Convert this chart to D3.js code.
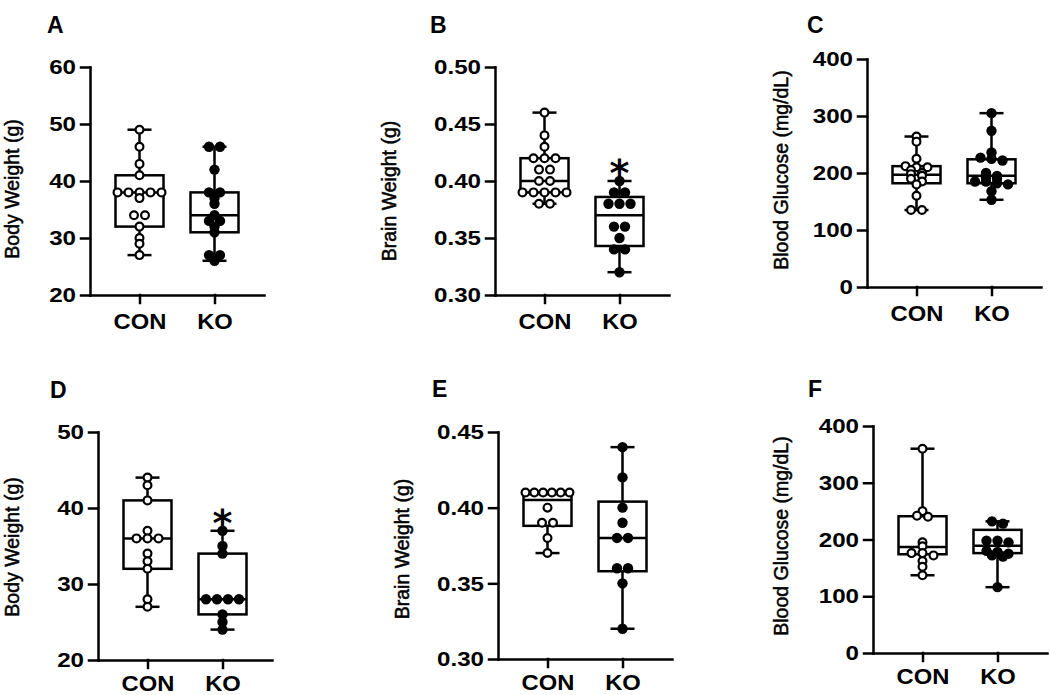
<!DOCTYPE html>
<html><head><meta charset="utf-8">
<script src="https://cdn.jsdelivr.net/npm/d3@7"></script>
<style>body{margin:0;background:#fff}</style>
</head><body>
<svg id="c" width="1050" height="695"></svg>
<script>
// ---------- data ----------
const groups = ["CON", "KO"];
const panelLetters = ["A", "B", "C", "D", "E", "F"];
const yTitles = ["Body Weight (g)", "Brain Weight (g)", "Blood Glucose (mg/dL)",
                 "Body Weight (g)", "Brain Weight (g)", "Blood Glucose (mg/dL)"];
const yDomains = [[20, 60], [0.30, 0.50], [0, 400], [20, 50], [0.30, 0.45], [0, 400]];
const yTicksA = [20, 30, 40, 50, 60];
const yTicksB = [0.30, 0.35, 0.40, 0.45, 0.50];
const yTicksC = [0, 100, 200, 300, 400];
const yTicksD = [20, 30, 40, 50];
const yTicksE = [0.30, 0.35, 0.40, 0.45];
const yTicksF = [0, 100, 200, 300, 400];
const tickFormats = ["d", ".2f", "d", "d", ".2f", "d"];
const significantKO = [false, true, false, true, false, false];

// individual values
const conA = [49, 46, 43, 41, 38, 38, 38, 38, 38, 37, 34, 34, 32, 30, 29, 27];
const koA  = [46, 46, 42, 38, 38, 37, 36, 34, 33, 33, 32, 31, 27, 27, 26];
const conB = [0.46, 0.44, 0.43, 0.42, 0.42, 0.42, 0.41, 0.41, 0.40, 0.40, 0.39, 0.39, 0.39, 0.39, 0.39, 0.38, 0.38];
const koB  = [0.40, 0.39, 0.39, 0.38, 0.38, 0.38, 0.36, 0.36, 0.35, 0.34, 0.34, 0.32];
const conC = [264, 255, 225, 212, 210, 210, 205, 200, 198, 195, 190, 185, 180, 160, 135, 135];
const koC  = [305, 274, 236, 227, 225, 222, 200, 195, 192, 190, 185, 185, 182, 180, 168, 153];
const conD = [44, 43, 41, 37, 36, 36, 36, 34, 33, 32, 28, 27];
const koD  = [37, 35, 34, 28, 28, 28, 28, 26, 25, 24];
const conE = [0.41, 0.41, 0.41, 0.41, 0.41, 0.41, 0.40, 0.39, 0.39, 0.38, 0.37];
const koE  = [0.44, 0.42, 0.40, 0.39, 0.38, 0.38, 0.36, 0.36, 0.35, 0.32];
const conF = [360, 250, 242, 240, 195, 188, 176, 176, 172, 162, 152, 137];
const koF  = [232, 228, 198, 198, 195, 180, 178, 175, 172, 170, 116];

// box statistics [min, q1, median, q3, max] for CON and KO
const boxA = [[27, 32, 38, 41, 49], [26, 31, 34, 38, 46]];
const boxB = [[0.38, 0.39, 0.40, 0.42, 0.46], [0.32, 0.343, 0.37, 0.386, 0.40]];
const boxC = [[135, 182, 197, 212, 264], [153, 182, 195, 224, 305]];
const boxD = [[27, 32, 36, 41, 44], [24, 26, 28, 34, 37]];
const boxE = [[0.37, 0.388, 0.405, 0.409, 0.41], [0.32, 0.358, 0.38, 0.404, 0.44]];
const boxF = [[137, 174, 187, 241, 360], [116, 176, 189, 217, 232]];

const yTicks = [yTicksA, yTicksB, yTicksC, yTicksD, yTicksE, yTicksF];
const values = [[conA, koA], [conB, koB], [conC, koC], [conD, koD], [conE, koE], [conF, koF]];
const boxes = [boxA, boxB, boxC, boxD, boxE, boxF];

// ---------- layout ----------
const layout = [
  {ax: 90,  top: 67,  bot: 295, lx: 47,  ly: 33,  tx: 12,  ty: 189, xpad: 10},
  {ax: 495, top: 67,  bot: 295, lx: 430, ly: 33,  tx: 389, ty: 191, xpad: 10},
  {ax: 867, top: 59,  bot: 287, lx: 807, ly: 33,  tx: 781, ty: 170, xpad: 10},
  {ax: 98,  top: 432, bot: 660, lx: 50,  ly: 398, tx: 12,  ty: 547, xpad: 7},
  {ax: 498, top: 432, bot: 659, lx: 432, ly: 397, tx: 402, ty: 549, xpad: 7},
  {ax: 873, top: 426, bot: 653, lx: 808, ly: 397, tx: 781, ty: 536, xpad: 7}
];
const AXIS_LEN = 174, BOX_W = 48, CAP_W = 24, LW = 2.5;
const R_FILL = 5.2, R_OPEN = 3.9, SPACING = 11, MAX_SPREAD = 44;
const FONT = "'Liberation Sans', Arial, Helvetica, sans-serif";

const svg = d3.select("#c");

function stretch(sel, f) {
  sel.each(function () {
    const w = this.getComputedTextLength();
    d3.select(this).attr("textLength", w * f).attr("lengthAdjust", "spacingAndGlyphs");
  });
}

function swarm(vals, y) {
  const pts = vals.map(v => ({v, y: y(v)})).sort((a, b) => a.y - b.y);
  const rows = [];
  pts.forEach(p => {
    const last = rows[rows.length - 1];
    if (last && Math.abs(last[0].y - p.y) < 3) last.push(p); else rows.push([p]);
  });
  rows.forEach(row => {
    const n = row.length;
    const sp = n > 1 ? Math.min(SPACING, MAX_SPREAD / (n - 1)) : 0;
    row.forEach((p, i) => { p.dx = (i - (n - 1) / 2) * sp; });
  });
  return pts;
}

layout.forEach((L, k) => {
  const g = svg.append("g");
  const y = d3.scaleLinear().domain(yDomains[k]).range([L.bot, L.top]);
  const x = d3.scalePoint().domain(groups).range([L.ax, L.ax + AXIS_LEN]).padding(0.66);

  const ya = g.append("g").attr("transform", `translate(${L.ax},0)`)
    .call(d3.axisLeft(y).tickValues(yTicks[k]).tickFormat(d3.format(tickFormats[k]))
      .tickSize(9).tickPadding(5).tickSizeOuter(0));
  const xa = g.append("g").attr("transform", `translate(0,${L.bot})`)
    .call(d3.axisBottom(x).tickSize(8).tickPadding(L.xpad).tickSizeOuter(0));
  [ya, xa].forEach(a => {
    a.selectAll("path, line").attr("stroke", "#000").attr("stroke-width", LW).attr("stroke-linecap", "square");
    a.selectAll("text").attr("fill", "#000").style("font-family", FONT).style("font-weight", "bold");
  });
  ya.selectAll("text").style("font-size", "21px");
  xa.selectAll("text").style("font-size", "22px");
  stretch(ya.selectAll("text"), 1.15);
  stretch(xa.selectAll("text"), 1.08);

  g.append("text")
    .attr("transform", `translate(${L.tx},${L.ty}) rotate(-90)`)
    .attr("text-anchor", "middle").attr("dominant-baseline", "central")
    .style("font-family", FONT).style("font-size", "19.5px")
    .attr("fill", "#000").attr("stroke", "#000").attr("stroke-width", 0.5)
    .text(yTitles[k]);

  g.append("text").attr("x", L.lx).attr("y", L.ly)
    .style("font-family", FONT).style("font-weight", "bold")
    .style("font-size", "23px").text(panelLetters[k]);

  groups.forEach((grp, i) => {
    const [mn, q1, md, q3, mx] = boxes[k][i];
    const cx = x(grp);
    const bg = g.append("g").attr("stroke", "#000").attr("stroke-width", LW).attr("fill", "none");
    bg.append("line").attr("x1", cx).attr("x2", cx).attr("y1", y(mx)).attr("y2", y(q3));
    bg.append("line").attr("x1", cx).attr("x2", cx).attr("y1", y(q1)).attr("y2", y(mn));
    bg.append("line").attr("x1", cx - CAP_W / 2).attr("x2", cx + CAP_W / 2).attr("y1", y(mx)).attr("y2", y(mx));
    bg.append("line").attr("x1", cx - CAP_W / 2).attr("x2", cx + CAP_W / 2).attr("y1", y(mn)).attr("y2", y(mn));
    bg.append("rect").attr("x", cx - BOX_W / 2).attr("width", BOX_W)
      .attr("y", y(q3)).attr("height", y(q1) - y(q3)).attr("fill", "#fff");
    bg.append("line").attr("x1", cx - BOX_W / 2).attr("x2", cx + BOX_W / 2).attr("y1", y(md)).attr("y2", y(md));

    const pts = swarm(values[k][i], y);
    const open = i === 0;
    g.append("g").selectAll("circle").data(pts).join("circle")
      .attr("cx", d => cx + d.dx).attr("cy", d => d.y)
      .attr("r", open ? R_OPEN : R_FILL)
      .attr("fill", open ? "#fff" : "#000")
      .attr("stroke", "#000").attr("stroke-width", open ? 2.2 : 0);

    if (i === 1 && significantKO[k]) {
      g.append("text").attr("x", cx).attr("y", y(mx) - 17 + 22)
        .attr("text-anchor", "middle")
        .style("font-family", "'DejaVu Sans', sans-serif").style("font-weight", "bold").style("font-size", "38px")
        .text("*");
    }
  });
});
</script>
</body></html>
